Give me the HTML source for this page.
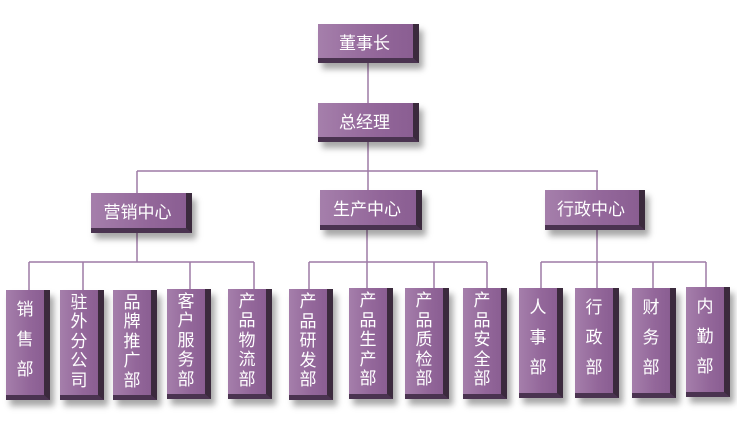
<!DOCTYPE html><html><head><meta charset="utf-8"><style>
body{margin:0;width:737px;height:430px;background:#fff;position:relative;overflow:hidden;font-family:"Liberation Sans","Noto Sans CJK SC",sans-serif}
.b{position:absolute;box-sizing:border-box;background:linear-gradient(90deg,#a57fab,#93679a 60%,#8a5e92);border-right:6px solid #3b2a3d;border-bottom:5px solid #4a3350;box-shadow:4px 6px 6px rgba(0,0,0,0.35);color:#fff;display:flex;align-items:center;justify-content:center;text-align:center}
.h{font-size:17px;padding-right:2px}
.v{font-size:17px;line-height:19.5px;width:44px;flex-direction:column;padding-bottom:2px}
.v3{line-height:30px;padding-bottom:6px}
svg{position:absolute;left:0;top:0}
</style></head><body>
<svg width="737" height="430"><g stroke="#9e7aa6" stroke-width="1.5" fill="none">
<line x1="368" y1="63" x2="368" y2="103"/><line x1="368" y1="142" x2="368" y2="192"/>
<line x1="137" y1="171" x2="598" y2="171"/><line x1="137" y1="171" x2="137" y2="193"/><line x1="597" y1="171" x2="597" y2="190"/>
<line x1="137" y1="233" x2="137" y2="262"/><line x1="29" y1="262" x2="254" y2="262"/>
<line x1="29" y1="262" x2="29" y2="290"/><line x1="83" y1="262" x2="83" y2="290"/><line x1="190" y1="262" x2="190" y2="290"/><line x1="254" y1="262" x2="254" y2="290"/>
<line x1="367" y1="230" x2="367" y2="289"/><line x1="309" y1="262" x2="487" y2="262"/>
<line x1="309" y1="262" x2="309" y2="289"/><line x1="434" y1="262" x2="434" y2="289"/><line x1="487" y1="262" x2="487" y2="289"/>
<line x1="597" y1="230" x2="597" y2="289"/><line x1="541" y1="262" x2="706" y2="262"/>
<line x1="541" y1="262" x2="541" y2="289"/><line x1="653" y1="262" x2="653" y2="289"/><line x1="706" y1="262" x2="706" y2="288"/>
</g></svg>
<div class="b h" style="left:318px;top:24px;width:101px;height:39px">董事长</div>
<div class="b h" style="left:318px;top:103px;width:101px;height:39px">总经理</div>
<div class="b h" style="left:91px;top:193px;width:101px;height:40px">营销中心</div>
<div class="b h" style="left:320px;top:190px;width:102px;height:40px">生产中心</div>
<div class="b h" style="left:545px;top:190px;width:100px;height:40px">行政中心</div>
<div class="b v v3" style="left:6px;top:290px;height:110px">销<br>售<br>部</div>
<div class="b v" style="left:60px;top:290px;height:110px">驻<br>外<br>分<br>公<br>司</div>
<div class="b v" style="left:113px;top:290px;height:110px">品<br>牌<br>推<br>广<br>部</div>
<div class="b v" style="left:167px;top:289px;height:110px">客<br>户<br>服<br>务<br>部</div>
<div class="b v" style="left:228px;top:289px;height:110px">产<br>品<br>物<br>流<br>部</div>
<div class="b v" style="left:289px;top:289px;height:111px">产<br>品<br>研<br>发<br>部</div>
<div class="b v" style="left:349px;top:288px;height:111px">产<br>品<br>生<br>产<br>部</div>
<div class="b v" style="left:405px;top:288px;height:111px">产<br>品<br>质<br>检<br>部</div>
<div class="b v" style="left:463px;top:288px;height:111px">产<br>品<br>安<br>全<br>部</div>
<div class="b v v3" style="left:519px;top:288px;height:110px">人<br>事<br>部</div>
<div class="b v v3" style="left:575px;top:288px;height:110px">行<br>政<br>部</div>
<div class="b v v3" style="left:632px;top:288px;height:110px">财<br>务<br>部</div>
<div class="b v v3" style="left:686px;top:287px;height:110px">内<br>勤<br>部</div>
</body></html>
